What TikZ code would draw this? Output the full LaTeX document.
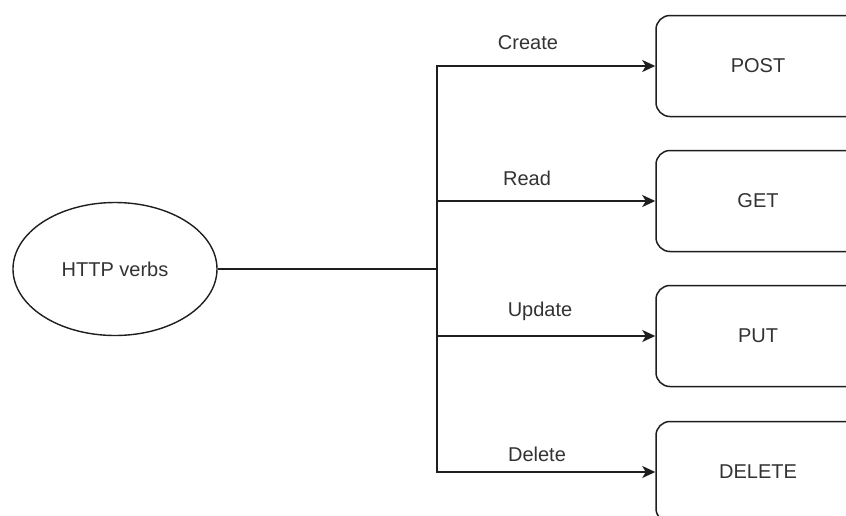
\documentclass[tikz,border=0pt]{standalone}
\usepackage{fontspec}
\setmainfont{Liberation Sans}
\usetikzlibrary{shapes.geometric,arrows.meta}
\definecolor{ln}{HTML}{1E1E1E}
\definecolor{tx}{HTML}{333333}
\begin{document}
\begin{tikzpicture}[x=1pt,y=-1pt,
  every node/.style={font=\fontsize{20}{24}\selectfont, text=tx},
  verb/.style={draw=ln, line width=1.5pt, rounded corners=14pt, minimum width=204pt, minimum height=101pt, inner sep=0pt},
  oval/.style={draw=ln, line width=1.4pt, ellipse, minimum width=204pt, minimum height=133pt, inner sep=0pt},
  conn/.style={draw=ln, line width=1.5pt},
  arr/.style={conn, -{Stealth[length=13pt,width=12pt,inset=3.5pt]}},
  lbl/.style={inner sep=0pt}]
\clip (0,0) rectangle (846,515);
\fill[white] (0,0) rectangle (846,515);
\node[oval] (http) at (115,269) {HTTP verbs};
\node[verb] (post) at (758,66) {POST};
\node[verb] (get) at (758,201) {GET};
\node[verb] (put) at (758,336) {PUT};
\node[verb] (del) at (758,472) {DELETE};
\coordinate (j) at (437,269);
\draw[conn] (http.east) -- (j);
\draw[arr] (j) |- (post.west);
\draw[arr] (j) |- (get.west);
\draw[arr] (j) |- (put.west);
\draw[arr] (j) |- (del.west);
\node[lbl] (lc) at (528,43) {Create};
\node[lbl] (lr) at (527,178) {Read};
\node[lbl] (lu) at (540,311) {Update};
\node[lbl] (ld) at (537,454) {Delete};
\end{tikzpicture}
\end{document}
